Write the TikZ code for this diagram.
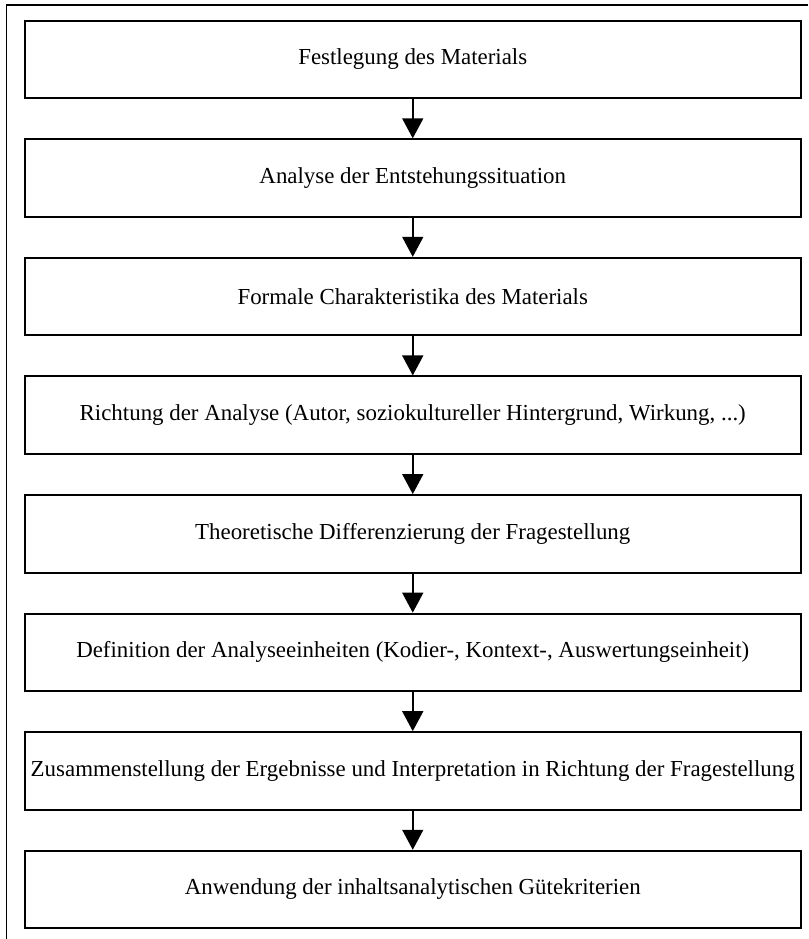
\documentclass[tikz,border=0pt]{standalone}
\usepackage{fontspec}
\setmainfont{Liberation Serif}
\usetikzlibrary{arrows.meta}
\begin{document}
\begin{tikzpicture}[x=1pt,y=-1pt,
  stepbox/.style={draw=black, line width=2pt, minimum width=776.5pt,
    minimum height=77.5pt, inner sep=0pt, anchor=center,
    font=\fontsize{22.9}{27}\selectfont},
  flow/.style={line width=1.6pt, -{Triangle[width=21pt,length=20pt]}}
]
\useasboundingbox (0,0) rectangle (808,939);
% outer frame (left and top edges)
\draw[line width=1.3pt] (6.5,939) -- (6.5,5) -- (808,5);

% process steps
\node[stepbox] (b1) at (412.75, 59.5) {Festlegung des Materials};
\node[stepbox] (b2) at (412.75, 178.1) {Analyse der Entstehungssituation};
\node[stepbox] (b3) at (412.75, 296.6) {Formale Charakteristika des Materials};
\node[stepbox] (b4) at (412.75, 415.2) {Richtung der Analyse (Autor, soziokultureller Hintergrund, Wirkung, ...)};
\node[stepbox] (b5) at (412.75, 533.8) {Theoretische Differenzierung der Fragestellung};
\node[stepbox] (b6) at (412.75, 652.4) {Definition der Analyseeinheiten (Kodier-, Kontext-, Auswertungseinheit)};
\node[stepbox] (b7) at (412.75, 770.9) {Zusammenstellung der Ergebnisse und Interpretation in Richtung der Fragestellung};
\node[stepbox] (b8) at (412.75, 889.5) {Anwendung der inhaltsanalytischen Gütekriterien};

% connectors
\foreach \a/\b in {b1/b2,b2/b3,b3/b4,b4/b5,b5/b6,b6/b7,b7/b8}
  \draw[flow] (\a.south) -- (\b.north);
\end{tikzpicture}
\end{document}
